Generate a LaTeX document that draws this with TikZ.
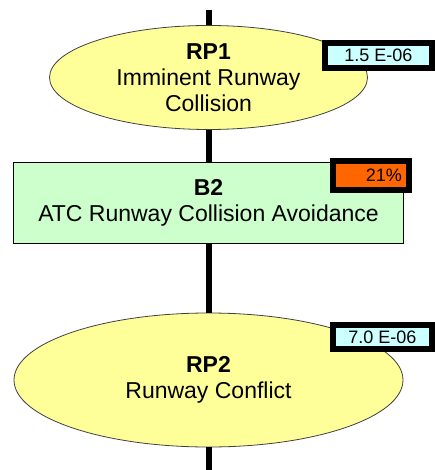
\documentclass[tikz,border=0pt]{standalone}
\usepackage{fontspec}
\setmainfont{Liberation Sans}
\usepackage{xcolor}
\usepackage{tikz}
\usetikzlibrary{shapes.geometric}

\definecolor{pinyellow}{HTML}{FFFF99}
\definecolor{barriergreen}{HTML}{CCFFCC}
\definecolor{probcyan}{HTML}{CCFFFF}
\definecolor{failorange}{HTML}{FF6600}

\begin{document}
\begin{tikzpicture}[x=1pt, y=-1pt,
	pinch/.style={ellipse, draw=black!75, line width=0.8pt, fill=pinyellow, inner sep=0pt, align=center, font=\fontsize{23}{26}\selectfont},
	barrier/.style={rectangle, draw=black, line width=1.2pt, fill=barriergreen, inner sep=0pt, align=center, font=\fontsize{23}{26}\selectfont},
	badge/.style={rectangle, draw=black, line width=6pt, inner sep=0pt, font=\fontsize{18}{20}\selectfont},
	spine/.style={line width=6pt}]
	\useasboundingbox (0,0) rectangle (435,470); % Fix the page size
	
	% The two ends of the spine
	\coordinate (top) at (208.5,10);
	\coordinate (bot) at (208.5,470);
	
	% Draw the pinch points and the barrier
	\node[pinch, minimum width=318pt, minimum height=104pt, inner ysep=-2pt] (rp1) at (208.5,77.5) {\textbf{RP1}\\Imminent Runway\\Collision};
	\node[barrier, minimum width=390pt, minimum height=81pt] (b2) at (208.5,203) {\textbf{B2}\\ATC Runway Collision Avoidance};
	\node[pinch, minimum width=389pt, minimum height=134pt] (rp2) at (208.5,380) {\textbf{RP2}\\Runway Conflict};
	
	% Connect them along the spine
	\draw[spine] (top) -- (rp1);
	\draw[spine] (rp1) -- (b2);
	\draw[spine] (b2) -- (rp2);
	\draw[spine] (rp2) -- (bot);
	
	% Frequencies and barrier failure
	\node[badge, fill=probcyan, minimum width=107pt, minimum height=25pt] (f1) at (378.5,55.5) {1.5 E-06};
	\node[badge, fill=failorange, minimum width=76pt, minimum height=29pt, text width=62pt, align=right] (f2) at (371,175.5) {21\%};
	\node[badge, fill=probcyan, minimum width=99pt, minimum height=24pt] (f3) at (382.5,337) {7.0 E-06};
	
\end{tikzpicture}
\end{document}
